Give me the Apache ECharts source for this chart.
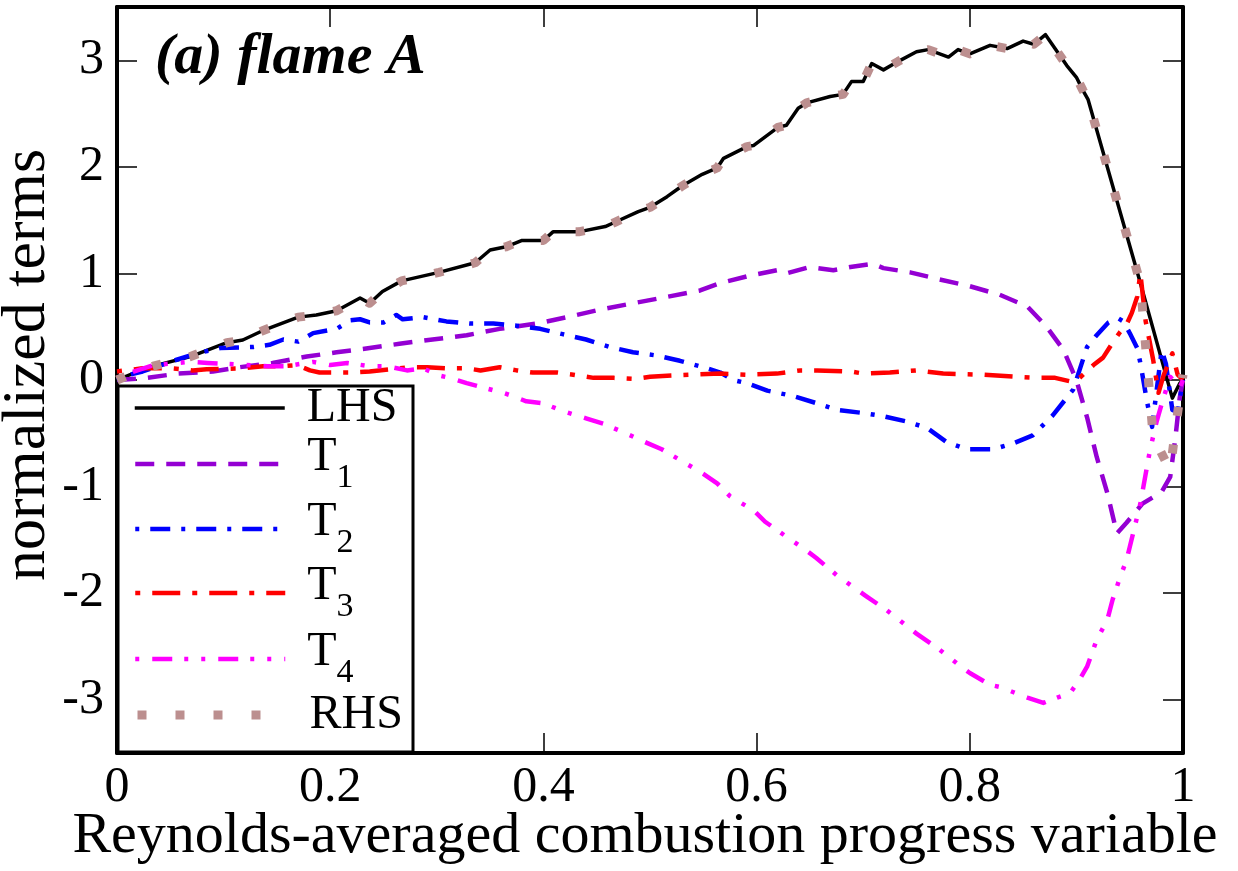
<!DOCTYPE html>
<html><head><meta charset="utf-8">
<script src="https://cdn.jsdelivr.net/npm/echarts@6/dist/echarts.min.js"></script>
<style>html,body{margin:0;padding:0;background:#fff}#c{width:1238px;height:871px}</style>
</head><body><div id="c"></div>
<script>
// ---- data ----
const xTickValues = [0, 0.2, 0.4, 0.6, 0.8, 1];
const yTickValues = [-3, -2, -1, 0, 1, 2, 3];
const seriesNames = ['LHS', 'T1', 'T2', 'T3', 'T4', 'RHS'];

const lhsX = [0, 0.017, 0.034, 0.069, 0.103, 0.118, 0.136, 0.170, 0.187, 0.206, 0.228, 0.237, 0.249, 0.267, 0.302, 0.336, 0.35, 0.365, 0.38, 0.40, 0.409, 0.433, 0.458, 0.467, 0.489, 0.5, 0.516, 0.53, 0.549, 0.563, 0.569, 0.591, 0.597, 0.62, 0.628, 0.639, 0.647, 0.669, 0.681, 0.689, 0.70, 0.708, 0.719, 0.733, 0.75, 0.761, 0.78, 0.789, 0.80, 0.819, 0.835, 0.85, 0.86, 0.871, 0.891, 0.90, 0.906, 0.911, 0.96, 0.99, 0.997, 1.0];
const lhsY = [0, 0.07, 0.13, 0.22, 0.35, 0.375, 0.46, 0.59, 0.61, 0.65, 0.77, 0.72, 0.83, 0.93, 1.01, 1.10, 1.22, 1.25, 1.31, 1.31, 1.39, 1.39, 1.44, 1.48, 1.58, 1.62, 1.72, 1.82, 1.93, 1.99, 2.08, 2.19, 2.2, 2.37, 2.39, 2.55, 2.6, 2.66, 2.68, 2.8, 2.8, 2.97, 2.91, 2.99, 3.08, 3.1, 3.03, 3.1, 3.06, 3.14, 3.11, 3.18, 3.15, 3.24, 2.95, 2.84, 2.72, 2.63, 0.91, -0.17, -0.03, 0.0];

const rhsX = [0, 0.017, 0.034, 0.069, 0.103, 0.118, 0.136, 0.170, 0.187, 0.206, 0.228, 0.237, 0.249, 0.267, 0.302, 0.336, 0.35, 0.365, 0.38, 0.40, 0.409, 0.433, 0.458, 0.467, 0.489, 0.5, 0.516, 0.53, 0.549, 0.563, 0.569, 0.591, 0.597, 0.62, 0.628, 0.639, 0.647, 0.669, 0.681, 0.689, 0.70, 0.708, 0.719, 0.733, 0.75, 0.761, 0.78, 0.789, 0.80, 0.819, 0.835, 0.85, 0.86, 0.871, 0.891, 0.90, 0.906, 0.911, 0.96, 0.972, 0.988, 0.993, 0.998, 1.0];
const rhsY = [0, 0.07, 0.13, 0.22, 0.35, 0.375, 0.46, 0.59, 0.61, 0.65, 0.77, 0.72, 0.83, 0.93, 1.01, 1.10, 1.22, 1.25, 1.31, 1.31, 1.39, 1.39, 1.44, 1.48, 1.58, 1.62, 1.72, 1.82, 1.93, 1.99, 2.08, 2.19, 2.2, 2.37, 2.39, 2.55, 2.6, 2.66, 2.68, 2.8, 2.8, 2.97, 2.91, 2.99, 3.08, 3.1, 3.03, 3.1, 3.06, 3.14, 3.11, 3.18, 3.15, 3.24, 2.95, 2.84, 2.72, 2.63, 0.91, -0.53, -0.85, -0.45, -0.09, 0.05];

const t1X = [0, 0.028, 0.057, 0.09, 0.115, 0.146, 0.178, 0.206, 0.237, 0.265, 0.296, 0.328, 0.359, 0.394, 0.422, 0.453, 0.484, 0.516, 0.547, 0.566, 0.594, 0.619, 0.628, 0.65, 0.672, 0.688, 0.709, 0.719, 0.744, 0.769, 0.80, 0.828, 0.854, 0.872, 0.888, 0.90, 0.91, 0.919, 0.929, 0.938, 0.947, 0.962, 0.98, 0.988, 0.993, 0.997, 1.0];
const t1Y = [0, 0.02, 0.06, 0.08, 0.12, 0.16, 0.22, 0.26, 0.30, 0.34, 0.38, 0.42, 0.48, 0.53, 0.59, 0.66, 0.72, 0.78, 0.84, 0.91, 0.98, 1.03, 1.0, 1.06, 1.03, 1.06, 1.09, 1.05, 1.01, 0.95, 0.88, 0.8, 0.69, 0.50, 0.28, 0.0, -0.35, -0.72, -1.06, -1.44, -1.34, -1.16, -1.05, -0.91, -0.53, -0.16, 0.0];

const t2X = [0, 0.012, 0.024, 0.056, 0.075, 0.097, 0.128, 0.143, 0.156, 0.17, 0.184, 0.206, 0.219, 0.228, 0.237, 0.25, 0.262, 0.268, 0.287, 0.309, 0.331, 0.353, 0.375, 0.397, 0.418, 0.44, 0.462, 0.484, 0.506, 0.528, 0.55, 0.566, 0.578, 0.591, 0.61, 0.634, 0.657, 0.675, 0.70, 0.719, 0.741, 0.76, 0.778, 0.797, 0.822, 0.842, 0.859, 0.878, 0.897, 0.91, 0.919, 0.93, 0.939, 0.944, 0.95, 0.957, 0.96, 0.966, 0.971, 0.98, 0.984, 0.99, 0.995, 1.0];
const t2Y = [0, 0.05, 0.08, 0.19, 0.25, 0.30, 0.31, 0.33, 0.38, 0.36, 0.44, 0.48, 0.56, 0.57, 0.54, 0.54, 0.61, 0.57, 0.59, 0.55, 0.53, 0.53, 0.51, 0.48, 0.43, 0.38, 0.31, 0.26, 0.23, 0.18, 0.12, 0.07, 0.0, -0.03, -0.1, -0.15, -0.22, -0.28, -0.31, -0.34, -0.39, -0.45, -0.58, -0.65, -0.65, -0.59, -0.52, -0.33, -0.09, 0.31, 0.42, 0.54, 0.58, 0.55, 0.44, 0.3, 0.16, -0.19, -0.44, 0.28, 0.15, -0.28, -0.3, 0.0];

const t3X = [0, 0.024, 0.05, 0.071, 0.084, 0.118, 0.137, 0.156, 0.169, 0.181, 0.19, 0.219, 0.237, 0.256, 0.275, 0.291, 0.309, 0.328, 0.341, 0.359, 0.375, 0.39, 0.413, 0.428, 0.447, 0.466, 0.487, 0.5, 0.516, 0.54, 0.566, 0.59, 0.619, 0.641, 0.657, 0.688, 0.70, 0.725, 0.75, 0.775, 0.813, 0.844, 0.863, 0.88, 0.897, 0.903, 0.916, 0.925, 0.934, 0.941, 0.947, 0.952, 0.957, 0.96, 0.965, 0.972, 0.977, 0.982, 0.985, 0.99, 0.995, 1.0];
const t3Y = [0.08, 0.11, 0.11, 0.09, 0.10, 0.11, 0.13, 0.13, 0.14, 0.09, 0.07, 0.07, 0.08, 0.10, 0.12, 0.12, 0.11, 0.11, 0.09, 0.12, 0.09, 0.07, 0.07, 0.05, 0.02, 0.02, 0.01, 0.03, 0.04, 0.05, 0.06, 0.05, 0.06, 0.09, 0.09, 0.08, 0.06, 0.07, 0.09, 0.06, 0.05, 0.03, 0.02, 0.02, -0.02, 0.02, 0.14, 0.21, 0.35, 0.45, 0.52, 0.63, 0.78, 1.0, 0.55, 0.19, -0.12, 0.05, 0.12, 0.25, 0.05, 0.0];

const t4X = [0, 0.01, 0.034, 0.068, 0.085, 0.106, 0.141, 0.159, 0.184, 0.2, 0.216, 0.237, 0.253, 0.272, 0.287, 0.303, 0.312, 0.328, 0.362, 0.371, 0.384, 0.40, 0.418, 0.44, 0.456, 0.475, 0.497, 0.511, 0.528, 0.55, 0.563, 0.575, 0.583, 0.597, 0.608, 0.625, 0.644, 0.656, 0.675, 0.703, 0.722, 0.75, 0.769, 0.788, 0.80, 0.819, 0.828, 0.841, 0.854, 0.869, 0.882, 0.894, 0.903, 0.91, 0.919, 0.929, 0.934, 0.941, 0.947, 0.95, 0.96, 0.969, 0.975, 0.981, 0.988, 0.997, 1.0];
const t4Y = [0.02, 0.06, 0.14, 0.17, 0.16, 0.15, 0.13, 0.13, 0.17, 0.14, 0.16, 0.13, 0.13, 0.09, 0.11, 0.04, 0.02, -0.03, -0.12, -0.15, -0.2, -0.22, -0.29, -0.36, -0.41, -0.49, -0.59, -0.65, -0.75, -0.88, -0.97, -1.09, -1.14, -1.22, -1.33, -1.45, -1.58, -1.67, -1.83, -2.03, -2.16, -2.38, -2.51, -2.66, -2.75, -2.86, -2.88, -2.93, -2.98, -3.03, -2.98, -2.94, -2.81, -2.69, -2.44, -2.25, -2.06, -1.85, -1.69, -1.57, -1.16, -0.66, -0.4, -0.19, 0.03, -0.07, 0.0];

// ---- chart ----
const FONT = "'Liberation Serif', 'Times New Roman', serif";
const zip = (xs, ys) => xs.map((x, i) => [x, ys[i]]);

const styles = {
  LHS: { color: '#000000', width: 3.5, type: 'solid', offset: 0 },
  T1:  { color: '#9400D3', width: 4.5, type: [19, 12], offset: 0 },
  T2:  { color: '#0000FF', width: 4.5, type: [20, 11, 4, 11], offset: 31 },
  T3:  { color: '#FF0000', width: 4.5, type: [28, 12, 5, 12], offset: 40 },
  T4:  { color: '#FF00FF', width: 4.5, type: [20, 12, 4, 13, 4, 13], offset: 49 },
  RHS: { color: '#BC8F8F', width: 9, type: [9, 29], offset: 0 }
};
const dataMap = {
  LHS: zip(lhsX, lhsY), T1: zip(t1X, t1Y), T2: zip(t2X, t2Y),
  T3: zip(t3X, t3Y), T4: zip(t4X, t4Y), RHS: zip(rhsX, rhsY)
};

const series = seriesNames.map(n => ({
  name: n, type: 'line', data: dataMap[n], symbol: 'none', showSymbol: false,
  animation: false, clip: true, z: 2,
  itemStyle: { color: styles[n].color },
  lineStyle: { color: styles[n].color, width: styles[n].width, type: styles[n].type,
               dashOffset: styles[n].offset, cap: 'butt', join: 'round' }
}));

const legendCenters = [416, 472, 537, 601, 667, 723];
const legendFmt = name => name[0] === 'T' ? '{m|T}{s|' + name.slice(1) + '}' : '{m|' + name + '}';
const legends = seriesNames.map((n, i) => ({
  data: [n], left: 133, top: legendCenters[i] - 40, orient: 'vertical',
  itemWidth: 150, itemHeight: 80, padding: 0, z: 5, selectedMode: false,
  itemStyle: { opacity: 0 },
  lineStyle: { width: styles[n].width, type: styles[n].type, dashOffset: styles[n].offset, cap: 'butt' },
  formatter: legendFmt,
  textStyle: {
    fontFamily: FONT, fontSize: 48, color: '#000', padding: [0, 0, 0, 17],
    rich: {
      m: { fontFamily: FONT, fontSize: 48, color: '#000', verticalAlign: 'top' },
      s: { fontFamily: FONT, fontSize: 34, color: '#000', verticalAlign: 'top', padding: [28, 0, 0, 0] }
    }
  }
}));

const axisLine = { show: true, onZero: false, lineStyle: { color: '#000', width: 4 } };
const axisTick = { show: true, inside: true, length: 20, lineStyle: { color: '#000', width: 1.5 } };
const labelStyle = { fontFamily: FONT, fontSize: 50, color: '#000' };

const option = {
  backgroundColor: '#fff',
  animation: false,
  grid: { left: 117, right: 55, top: 7, bottom: 118, containLabel: false, outerBoundsMode: 'none' },
  title: {
    text: '(a) flame A', left: 150, top: 24,
    textStyle: { fontFamily: FONT, fontSize: 58, fontStyle: 'italic', fontWeight: 'bold', color: '#000' }
  },
  xAxis: [
    { type: 'value', min: xTickValues[0], max: xTickValues[xTickValues.length - 1], interval: 0.2, position: 'bottom',
      axisLine, axisTick, splitLine: { show: false },
      axisLabel: Object.assign({ margin: 10 }, labelStyle),
      name: 'Reynolds-averaged combustion progress variable', nameLocation: 'middle', nameGap: 55,
      nameMoveOverlap: false,
      nameTextStyle: { fontFamily: FONT, fontSize: 58, color: '#000', padding: [0, 10, 0, 0] } },
    { type: 'value', min: 0, max: 1, interval: 0.2, position: 'top',
      axisLine, axisTick, splitLine: { show: false }, axisLabel: { show: false } }
  ],
  yAxis: [
    { type: 'value', min: -3.5, max: 3.5, splitNumber: 7, position: 'left',
      axisLine, axisTick, splitLine: { show: false },
      axisLabel: Object.assign({ margin: 13, formatter: v => (yTickValues.indexOf(v) >= 0 ? String(v) : '') }, labelStyle),
      name: 'normalized terms', nameLocation: 'middle', nameGap: 58,
      nameMoveOverlap: false,
      nameTextStyle: { fontFamily: FONT, fontSize: 62, color: '#000', padding: [0, 0, 0, 30] } },
    { type: 'value', min: -3.5, max: 3.5, splitNumber: 7, position: 'right',
      axisLine, axisTick, splitLine: { show: false }, axisLabel: { show: false } }
  ],
  legend: legends,
  graphic: [{ type: 'rect', z: 3, shape: { x: 118, y: 386, width: 295, height: 366 },
              style: { fill: '#fff', stroke: '#000', lineWidth: 3 } }],
  series
};

const chart = echarts.init(document.getElementById('c'), null, { renderer: 'canvas' });
chart.setOption(option);
</script></body></html>
